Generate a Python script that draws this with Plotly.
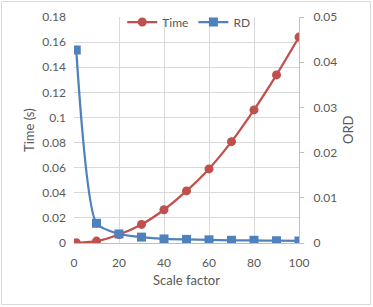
import plotly.graph_objects as go

scale = [1, 10, 20, 30, 40, 50, 60, 70, 80, 90, 100]
time_s = [0.0002, 0.0015, 0.0068, 0.0148, 0.0265, 0.0415, 0.059, 0.0807, 0.106, 0.1339, 0.164]
rd = [0.0427, 0.00436, 0.0020, 0.0013, 0.0009, 0.0008, 0.0007, 0.0006, 0.0006, 0.0005, 0.00045]

red = "#C0504D"
blue = "#4F81BD"
txt = "#595959"
font = "Lato, 'Liberation Sans', sans-serif"

W, H = 373, 307
L, R, T, B = 74, 74, 17, 64
pw, ph = W - L - R, H - T - B

fig = go.Figure()
fig.add_trace(go.Scatter(x=scale, y=time_s, name="Time", mode="lines+markers",
                         line=dict(color=red, width=2.25, shape="spline", smoothing=0.6),
                         marker=dict(symbol="circle", size=9, color=red), yaxis="y"))
fig.add_trace(go.Scatter(x=scale, y=rd, name="RD", mode="lines+markers",
                         line=dict(color=blue, width=2.25, shape="spline", smoothing=0.6),
                         marker=dict(symbol="square", size=9, color=blue), yaxis="y2"))

fig.update_layout(
    width=W, height=H,
    margin=dict(l=L, r=R, t=T, b=B, autoexpand=False),
    paper_bgcolor="white", plot_bgcolor="white",
    font=dict(family=font, size=12, color=txt),
    showlegend=True,
    legend=dict(orientation="h", x=0.51, xanchor="center", y=1 - 5 / ph, yanchor="middle",
                bgcolor="rgba(255,255,255,0)", font=dict(size=12, color=txt),
                itemwidth=30, tracegroupgap=0),
    xaxis=dict(range=[0, 100], tick0=0, dtick=20, showgrid=True, gridcolor="#D9D9D9",
               gridwidth=1, zeroline=False, showline=True, linecolor="#BFBFBF",
               ticks="", ticklabelstandoff=9, automargin=False,
               tickfont=dict(size=12, color=txt)),
    yaxis=dict(range=[0, 0.18], tick0=0, dtick=0.02, showgrid=True, gridcolor="#D9D9D9",
               zeroline=False, showline=False, ticks="", tickformat="~g",
               ticklabelstandoff=7, automargin=False,
               tickfont=dict(size=12, color=txt)),
    yaxis2=dict(range=[0, 0.05], tick0=0, dtick=0.01, overlaying="y", side="right",
                showgrid=False, zeroline=False, showline=True, linecolor="#BFBFBF",
                ticks="outside", ticklen=4, tickcolor="#BFBFBF", tickformat="~g",
                ticklabelstandoff=7, automargin=False,
                tickfont=dict(size=12, color=txt)),
    annotations=[
        dict(text="Scale factor", xref="paper", yref="paper", x=0.5, y=-(280 - T - ph) / ph,
             xanchor="center", yanchor="middle", showarrow=False, font=dict(size=13, color=txt)),
        dict(text="Time (s)", xref="paper", yref="paper", x=-(L - 29) / pw, y=0.5,
             xanchor="center", yanchor="middle", textangle=-90, showarrow=False,
             font=dict(size=13, color=txt)),
        dict(text="ORD", xref="paper", yref="paper", x=1 + (348 - L - pw) / pw, y=0.5,
             xanchor="center", yanchor="middle", textangle=-90, showarrow=False,
             font=dict(size=13, color=txt)),
    ],
    shapes=[dict(type="rect", xref="paper", yref="paper",
                 x0=-(L - 1.5) / pw, x1=1 + (R - 2.5) / pw,
                 y0=-(B - 2.5) / ph, y1=1 + (T - 1.5) / ph,
                 line=dict(color="#D9D9D9", width=1))],
)

fig.write_html("out.html", config={"displayModeBar": False},
               post_script="document.body.style.margin='0px';document.body.style.overflow='hidden';")
